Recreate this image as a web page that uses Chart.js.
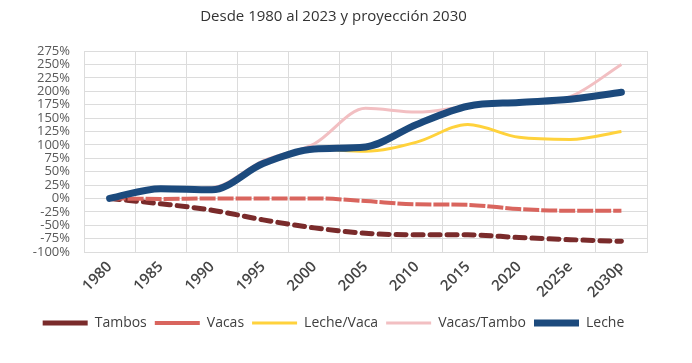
<!DOCTYPE html>
<html>
<head>
<meta charset="utf-8">
<script src="https://cdn.jsdelivr.net/npm/chart.js@4.4.0/dist/chart.umd.min.js"></script>
<style>
  html, body { margin: 0; padding: 0; background: #fff; }
  #wrap { width: 692px; height: 363px; }
</style>
</head>
<body>
<div id="wrap"><canvas id="myChart" width="692" height="363"></canvas></div>
<script>
// categorias y series (variacion % vs 1980)
const years = ["1980", "1985", "1990", "1995", "2000", "2005", "2010", "2015", "2020", "2025e", "2030p"];
const tambos = [0, -10, -22, -40, -55, -65, -68, -68, -73, -77, -80];
const vacas = [0, -1, 0, 0, 0, -5, -11, -12, -20, -23, -23];
const lecheVaca = [0, 17, 15, 65, 92, 88, 105, 138, 114, 110, 125];
const vacasTambo = [0, 18, 20, 70, 102, 168, 161, 172, 178, 190, 250];
const leche = [0, 18, 16, 65, 92, 96, 138, 172, 179, 185, 198];

const ctx = document.getElementById("myChart").getContext("2d");
const chart = new Chart(ctx, {
  type: "line",
  data: {
    labels: years,
    datasets: [
      {
        label: "Tambos",
        data: tambos,
        borderColor: "#7a2b2b",
        backgroundColor: "#7a2b2b",
        borderWidth: 5,
        borderDash: [10, 7],
        borderCapStyle: "round",
        order: 5,
      },
      {
        label: "Vacas",
        data: vacas,
        borderColor: "#d9655e",
        backgroundColor: "#d9655e",
        borderWidth: 4,
        borderDash: [16, 2],
        order: 4,
      },
      {
        label: "Leche/Vaca",
        data: lecheVaca,
        borderColor: "#ffd23c",
        backgroundColor: "#ffd23c",
        borderWidth: 3,
        order: 3,
      },
      {
        label: "Vacas/Tambo",
        data: vacasTambo,
        borderColor: "#f2bfc2",
        backgroundColor: "#f2bfc2",
        borderWidth: 3,
        order: 2,
      },
      {
        label: "Leche",
        data: leche,
        borderColor: "#1c4a7d",
        backgroundColor: "#1c4a7d",
        borderWidth: 7,
        borderCapStyle: "round",
        order: 1,
      },
    ],
  },
  options: {
    responsive: false,
    animation: false,
    layout: { padding: { left: 20, right: 45, top: 4, bottom: 23 } },
    elements: {
      point: { radius: 0 },
      line: { tension: 0.4, cubicInterpolationMode: "monotone" },
    },
    plugins: {
      title: {
        display: true,
        text: "Desde 1980 al 2023 y proyección 2030",
        color: "#333333",
        font: { family: "Open Sans", size: 15, weight: "normal" },
        padding: { top: 4, bottom: 25 },
      },
      legend: {
        position: "bottom",
        labels: {
          usePointStyle: true,
          pointStyle: "line",
          pointStyleWidth: 45,
          boxHeight: 12,
          padding: 8,
          color: "#404040",
          font: { family: "Open Sans", size: 14 },
          sort: (a, b) => a.datasetIndex - b.datasetIndex,
        },
      },
      tooltip: { enabled: false },
    },
    scales: {
      x: {
        offset: true,
        grid: { color: "#dcdcdc", offset: true, drawTicks: false },
        border: { color: "#dcdcdc" },
        afterFit: (scale) => { scale.height = 56; },
        ticks: {
          maxRotation: 45,
          minRotation: 45,
          color: "#454545",
          padding: 6,
          font: { family: "Open Sans", size: 15, weight: "600" },
        },
      },
      y: {
        min: -100,
        max: 275,
        grid: { color: "#dcdcdc", drawTicks: false },
        border: { color: "#dcdcdc" },
        afterFit: (scale) => { scale.width = 64; },
        ticks: {
          stepSize: 25,
          autoSkip: false,
          color: "#595959",
          padding: 14,
          font: { family: "Open Sans", size: 13 },
          callback: (v) => v + "%",
        },
      },
    },
  },
});
</script>
</body>
</html>
